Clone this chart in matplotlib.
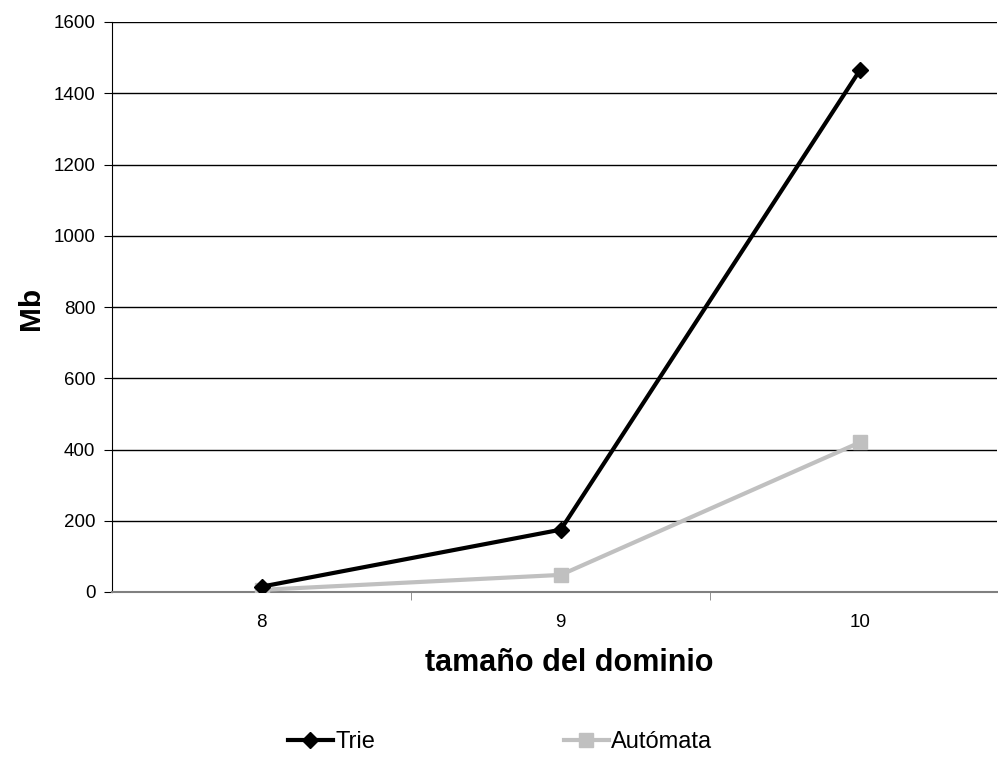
import matplotlib.pyplot as plt
from matplotlib.ticker import FixedLocator

plt.rcParams['font.family'] = ['Liberation Sans', 'DejaVu Sans']

categories = ['8', '9', '10']
trie = [15, 175, 1465]
automata = [6, 48, 420]

fig = plt.figure(figsize=(9.98, 7.6), dpi=100)
ax = fig.add_axes([112 / 998, 168 / 760, 885 / 998, 570 / 760])

x = range(len(categories))
ax.plot(x, trie, color='black', lw=3, marker='D', ms=8, label='Trie', zorder=4)
ax.plot(x, automata, color='#c0c0c0', lw=3, marker='s', ms=10.5, label='Autómata', zorder=3)

ax.set_xlim(-0.5, 2.458)
ax.set_ylim(0, 1600)
ax.set_yticks(range(0, 1601, 200))
ax.yaxis.grid(True, color='black', lw=1)
ax.set_axisbelow(True)

ax.set_xticks(list(x))
ax.set_xticklabels(categories)
ax.xaxis.set_minor_locator(FixedLocator([0.5, 1.5, 2.5]))
ax.tick_params(axis='x', which='major', length=0, pad=16, labelsize=13.5)
ax.tick_params(axis='x', which='minor', length=6, color='gray')
ax.tick_params(axis='y', length=6, labelsize=13.5, pad=6)

for s in ['top', 'right']:
    ax.spines[s].set_visible(False)
ax.spines['bottom'].set_color('gray')
ax.spines['bottom'].set_linewidth(1.5)
ax.spines['left'].set_color('black')

ax.set_xlabel('tamaño del dominio', fontsize=22, fontweight='bold')
ax.xaxis.set_label_coords((569 - 112) / 885, -(663 - 592) / 570)
ax.xaxis.label.set_va('center')
ax.set_ylabel('Mb', fontsize=21.5, fontweight='bold')
ax.yaxis.set_label_coords(-(112 - 31) / 885, (592 - 308) / 570)
ax.yaxis.label.set_va('center')

fig.legend(loc='center', bbox_to_anchor=(500 / 998, 18 / 760), ncol=2, frameon=False,
           fontsize=17, handlelength=1.9, handletextpad=0.1, columnspacing=8.0)

fig.savefig('out.png', dpi=100)
